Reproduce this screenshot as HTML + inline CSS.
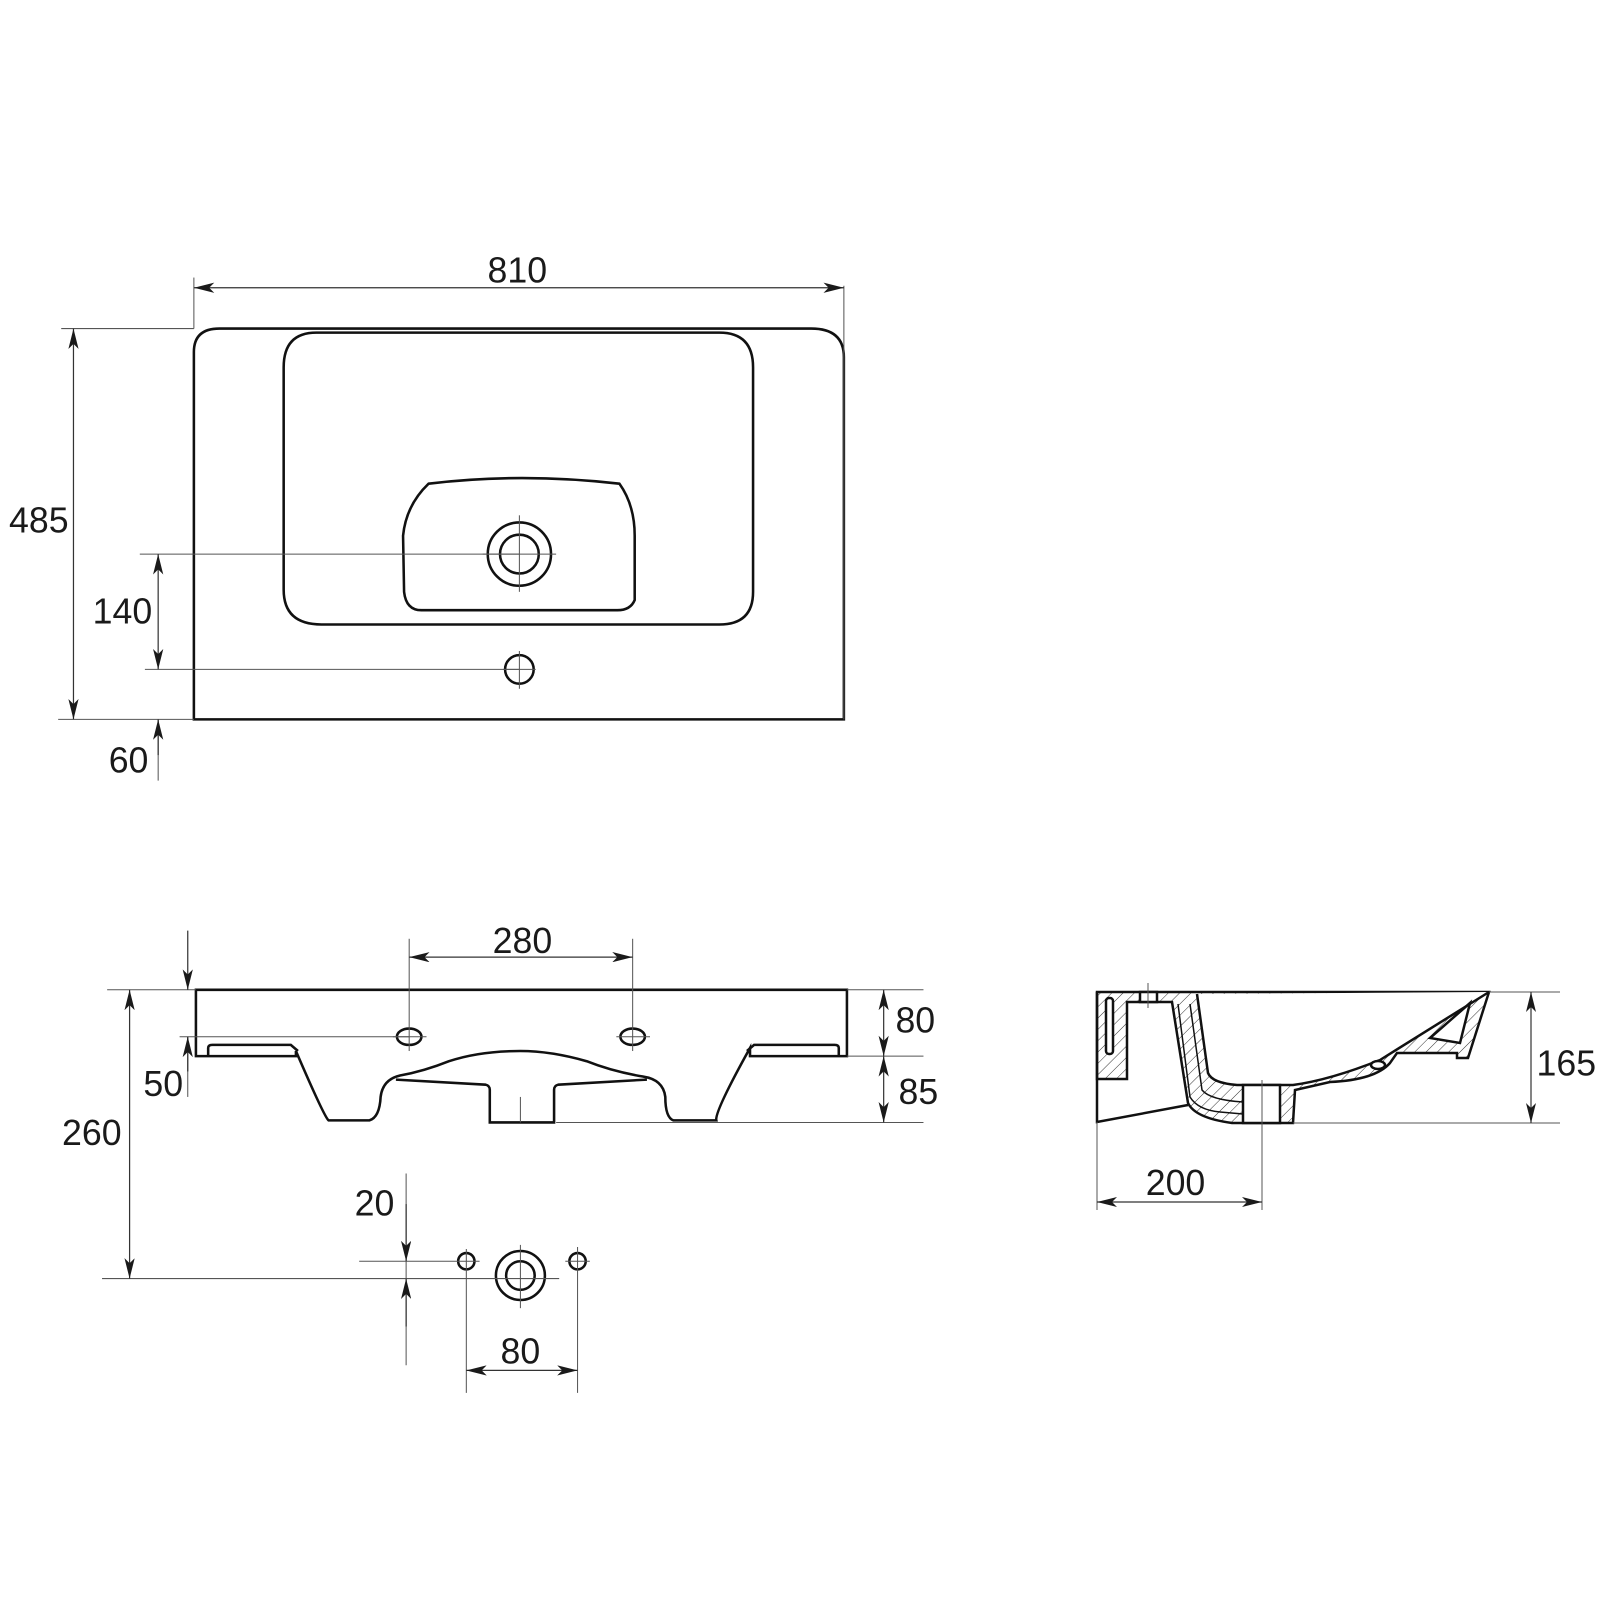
<!DOCTYPE html>
<html><head><meta charset="utf-8"><style>
html,body{margin:0;padding:0;background:#fff;}
svg{display:block;}
text{font-family:"Liberation Sans",Arial,sans-serif;fill:#1a1a1a;}
</style></head><body>
<svg width="1600" height="1600" viewBox="0 0 1568 1568" xmlns="http://www.w3.org/2000/svg">
<defs>
<marker id="a" viewBox="0 0 20 10" refX="20" refY="5" markerWidth="20" markerHeight="10" markerUnits="userSpaceOnUse" orient="auto-start-reverse">
<path d="M0,0 L20,5 L0,10 L5,5 Z" fill="#1a1a1a"/></marker>
<pattern id="h" width="8" height="8" patternUnits="userSpaceOnUse" patternTransform="rotate(45)">
<line x1="0" y1="0" x2="0" y2="8" stroke="#333" stroke-width="1"/></pattern>
</defs>
<g fill="none" stroke="#111">
<!-- TOP VIEW -->
<g stroke-width="2.5">
<path d="M190,705 L190,345 Q190,322 215,322 L795,322 Q827,322 827,350 L827,705 Z"/>
<path d="M310,326 L705,326 Q738,326 738,360 L738,580 Q738,612 705,612 L315,612 Q278,612 278,578 L278,360 Q278,326 310,326 Z"/>
<path d="M420,474 Q510,463 607,474 Q622,495 622,525 L622,588 Q618,598 605,598 L413,598 Q398,598 396,580 L395,525 Q398,495 420,474 Z"/>
<circle cx="509" cy="543" r="31"/><circle cx="509" cy="543" r="19"/>
<circle cx="509" cy="656" r="14"/>
</g>
<g stroke="#555" stroke-width="1">
<line x1="473" y1="543" x2="545" y2="543"/><line x1="509" y1="505" x2="509" y2="580"/>
<line x1="509" y1="638" x2="509" y2="675"/><line x1="493" y1="656" x2="525" y2="656"/>
<line x1="190" y1="272" x2="190" y2="322"/><line x1="827" y1="280" x2="827" y2="705"/>
<line x1="60" y1="322" x2="190" y2="322"/><line x1="57" y1="705" x2="190" y2="705"/>
<line x1="137" y1="543" x2="509" y2="543"/><line x1="142" y1="656" x2="509" y2="656"/>
<line x1="155" y1="705" x2="155" y2="765"/>
</g>
<g stroke="#333" stroke-width="1.2">
<line x1="190" y1="282" x2="827" y2="282" marker-start="url(#a)" marker-end="url(#a)"/>
<line x1="72" y1="322" x2="72" y2="705" marker-start="url(#a)" marker-end="url(#a)"/>
<line x1="155" y1="543" x2="155" y2="656" marker-start="url(#a)" marker-end="url(#a)"/>
<line x1="155" y1="740" x2="155" y2="705" marker-end="url(#a)"/>
</g>

<!-- FRONT VIEW -->
<g stroke-width="2.5">
<path d="M192,970 L830,970 L830,1035 L735,1035 L735,1027 Q700,1090 702,1098 L660,1098 Q652,1095 652,1075 Q650,1058 630,1055 Q600,1050 575,1040 Q540,1030 510,1030 Q470,1030 440,1040 Q415,1050 392,1054 Q375,1058 373,1075 Q372,1095 362,1098 L322,1098 Q318,1095 290,1030 L290,1035 L192,1035 Z"/>
<path d="M204,1035 L204,1027 Q204,1024 208,1024 L285,1024 L292,1030"/>
<path d="M732,1030 L739,1024 L818,1024 Q822,1024 822,1027 L822,1035"/>
<path d="M388,1058 L476,1063 Q480,1064 480,1068 L480,1100 L543,1100 L543,1068 Q543,1064 547,1063 L634,1058"/>
<ellipse cx="401" cy="1016" rx="12" ry="8"/><ellipse cx="620" cy="1016" rx="12" ry="8"/>
<circle cx="457" cy="1236" r="8"/><circle cx="566" cy="1236" r="8"/>
<circle cx="510" cy="1250" r="24"/><circle cx="510" cy="1250" r="14"/>
</g>
<g stroke="#555" stroke-width="1">
<line x1="401" y1="920" x2="401" y2="1030"/><line x1="620" y1="920" x2="620" y2="1030"/>
<line x1="385" y1="1016" x2="418" y2="1016"/><line x1="604" y1="1016" x2="637" y2="1016"/>
<line x1="176" y1="1016" x2="401" y2="1016"/>
<line x1="105" y1="970" x2="192" y2="970"/><line x1="830" y1="970" x2="905" y2="970"/>
<line x1="830" y1="1035" x2="905" y2="1035"/><line x1="545" y1="1100" x2="905" y2="1100"/>
<line x1="510" y1="1075" x2="510" y2="1100"/>
<line x1="100" y1="1253" x2="548" y2="1253"/><line x1="352" y1="1236" x2="470" y2="1236"/>
<line x1="457" y1="1224" x2="457" y2="1365"/><line x1="566" y1="1222" x2="566" y2="1365"/>
<line x1="554" y1="1236" x2="578" y2="1236"/>
<line x1="510" y1="1220" x2="510" y2="1282"/>
<line x1="398" y1="1150" x2="398" y2="1338"/>
<line x1="184" y1="1016" x2="184" y2="1075"/>
</g>
<g stroke="#333" stroke-width="1.2">
<line x1="401" y1="938" x2="620" y2="938" marker-start="url(#a)" marker-end="url(#a)"/>
<line x1="184" y1="912" x2="184" y2="970" marker-end="url(#a)"/>
<line x1="184" y1="1050" x2="184" y2="1016" marker-end="url(#a)"/>
<line x1="127" y1="970" x2="127" y2="1253" marker-start="url(#a)" marker-end="url(#a)"/>
<line x1="866" y1="970" x2="866" y2="1035" marker-start="url(#a)" marker-end="url(#a)"/>
<line x1="866" y1="1035" x2="866" y2="1100" marker-start="url(#a)" marker-end="url(#a)"/>
<line x1="398" y1="1180" x2="398" y2="1236" marker-end="url(#a)"/>
<line x1="398" y1="1300" x2="398" y2="1253" marker-end="url(#a)"/>
<line x1="457" y1="1343" x2="566" y2="1343" marker-start="url(#a)" marker-end="url(#a)"/>
</g>

<!-- SIDE VIEW (real coords, scaled) -->
<g transform="scale(0.98)">
<g stroke-width="2.5">
<path d="M1097,992 L1489,992 L1468,1058 L1457,1058 L1457,1053 L1397,1053 L1390,1063 Q1375,1080 1330,1082 L1295,1090 L1293,1123 L1232,1123 Q1195,1118 1188,1103 L1172,1002 L1127,1002 L1127,1079 L1097,1079 Z" fill="url(#h)"/>
<path d="M1097,992 L1097,1122 L1188,1105" />
<path d="M1197,994 L1208,1073 Q1212,1083 1237,1085 L1293,1085 Q1330,1080 1380,1060 L1489,992" fill="#fff"/>
<path d="M1178,1004 L1190,1097 Q1198,1110 1220,1112 L1243,1114" stroke-width="1.5"/>
<path d="M1190,1004 L1202,1090 Q1210,1100 1243,1102" stroke-width="1.5"/>
<rect x="1243" y="1085" width="37" height="38" fill="#fff"/>
<rect x="1140" y="992" width="17" height="10" fill="#fff"/>
<rect x="1106" y="998" width="7" height="56" rx="3" fill="#fff"/>
<path d="M1430,1038 L1470,1003 L1460,1043 Z" fill="#fff"/>
<ellipse cx="1378" cy="1065" rx="7" ry="4" fill="#fff"/>
</g>
<g stroke="#555" stroke-width="1">
<line x1="1148" y1="983" x2="1148" y2="1008"/>
<line x1="1262" y1="1080" x2="1262" y2="1210"/>
<line x1="1293" y1="1123" x2="1560" y2="1123"/>
<line x1="1489" y1="992" x2="1560" y2="992"/>
<line x1="1097" y1="1122" x2="1097" y2="1210"/>
</g>
<g stroke="#333" stroke-width="1.2">
<line x1="1531" y1="992" x2="1531" y2="1123" marker-start="url(#a)" marker-end="url(#a)"/>
<line x1="1097" y1="1202" x2="1262" y2="1202" marker-start="url(#a)" marker-end="url(#a)"/>
</g>
</g>
</g>

<g font-size="35" text-anchor="middle">
<text x="507" y="277">810</text>
<text x="38" y="522">485</text>
<text x="120" y="611">140</text>
<text x="126" y="757">60</text>
<text x="512" y="934">280</text>
<text x="897" y="1012">80</text>
<text x="900" y="1082">85</text>
<text x="160" y="1074">50</text>
<text x="90" y="1122">260</text>
<text x="367" y="1191">20</text>
<text x="510" y="1336">80</text>
<text x="1535" y="1054">165</text>
<text x="1152" y="1171">200</text>
</g>
</svg>
</body></html>
